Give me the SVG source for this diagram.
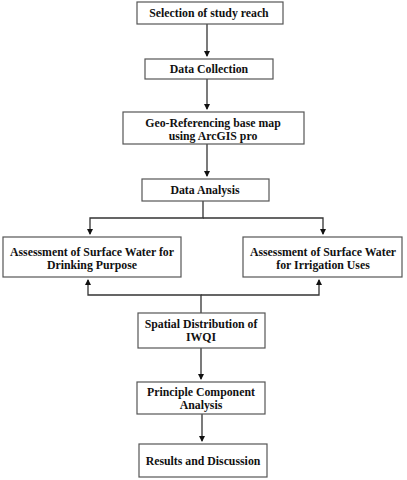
<svg xmlns="http://www.w3.org/2000/svg" width="407" height="480" viewBox="0 0 407 480">
<style>
.box{fill:#fff;stroke:#555;stroke-width:1.2}
.t{font-family:"Liberation Serif","Times New Roman",serif;font-weight:bold;font-size:11.8px;fill:#111;text-anchor:middle}
.c{fill:none;stroke:#333;stroke-width:1.3}
</style>
<defs>
<marker id="ah" markerWidth="6" markerHeight="6" refX="5" refY="3" orient="auto" markerUnits="userSpaceOnUse">
<path d="M0,0 L6,3 L0,6 Z" fill="#111"/>
</marker>
</defs>
<rect width="407" height="480" fill="#fff"/>
<g id="connectors">
<path class="c" d="M207,24 V56" marker-end="url(#ah)"/>
<path class="c" d="M207,79 V109" marker-end="url(#ah)"/>
<path class="c" d="M207,144 V176" marker-end="url(#ah)"/>
<path class="c" d="M203,201 V218 H90 V234" marker-end="url(#ah)"/>
<path class="c" d="M203,218 H323 V234" marker-end="url(#ah)"/>
<path class="c" d="M201,313 V295 H88 V280" marker-end="url(#ah)"/>
<path class="c" d="M201,295 H319 V280" marker-end="url(#ah)"/>
<path class="c" d="M201,348 V379" marker-end="url(#ah)"/>
<path class="c" d="M202,414 V441" marker-end="url(#ah)"/>
</g>
<g id="n1"><rect class="box" x="137" y="2" width="146" height="22"/><text class="t" x="209" y="17">Selection of study reach</text></g>
<g id="n2"><rect class="box" x="145" y="59" width="128" height="20"/><text class="t" x="209" y="73">Data Collection</text></g>
<g id="n3"><rect class="box" x="123" y="112" width="181" height="32"/><text class="t" x="213" y="127">Geo-Referencing base map</text><text class="t" x="213" y="140">using ArcGIS pro</text></g>
<g id="n4"><rect class="box" x="142" y="179" width="127" height="22"/><text class="t" x="205" y="194">Data Analysis</text></g>
<g id="n5"><rect class="box" x="3" y="237" width="178" height="40"/><text class="t" x="92" y="256">Assessment of Surface Water for</text><text class="t" x="92" y="269">Drinking Purpose</text></g>
<g id="n6"><rect class="box" x="243" y="237" width="159" height="40"/><text class="t" x="323" y="256">Assessment of Surface Water</text><text class="t" x="323" y="269">for Irrigation Uses</text></g>
<g id="n7"><rect class="box" x="138" y="313" width="127" height="35"/><text class="t" x="201" y="328">Spatial Distribution of</text><text class="t" x="201" y="341">IWQI</text></g>
<g id="n8"><rect class="box" x="137" y="382" width="128" height="32"/><text class="t" x="201" y="396">Principle Component</text><text class="t" x="201" y="409">Analysis</text></g>
<g id="n9"><rect class="box" x="139" y="444" width="128" height="33"/><text class="t" x="203" y="465">Results and Discussion</text></g>
</svg>
